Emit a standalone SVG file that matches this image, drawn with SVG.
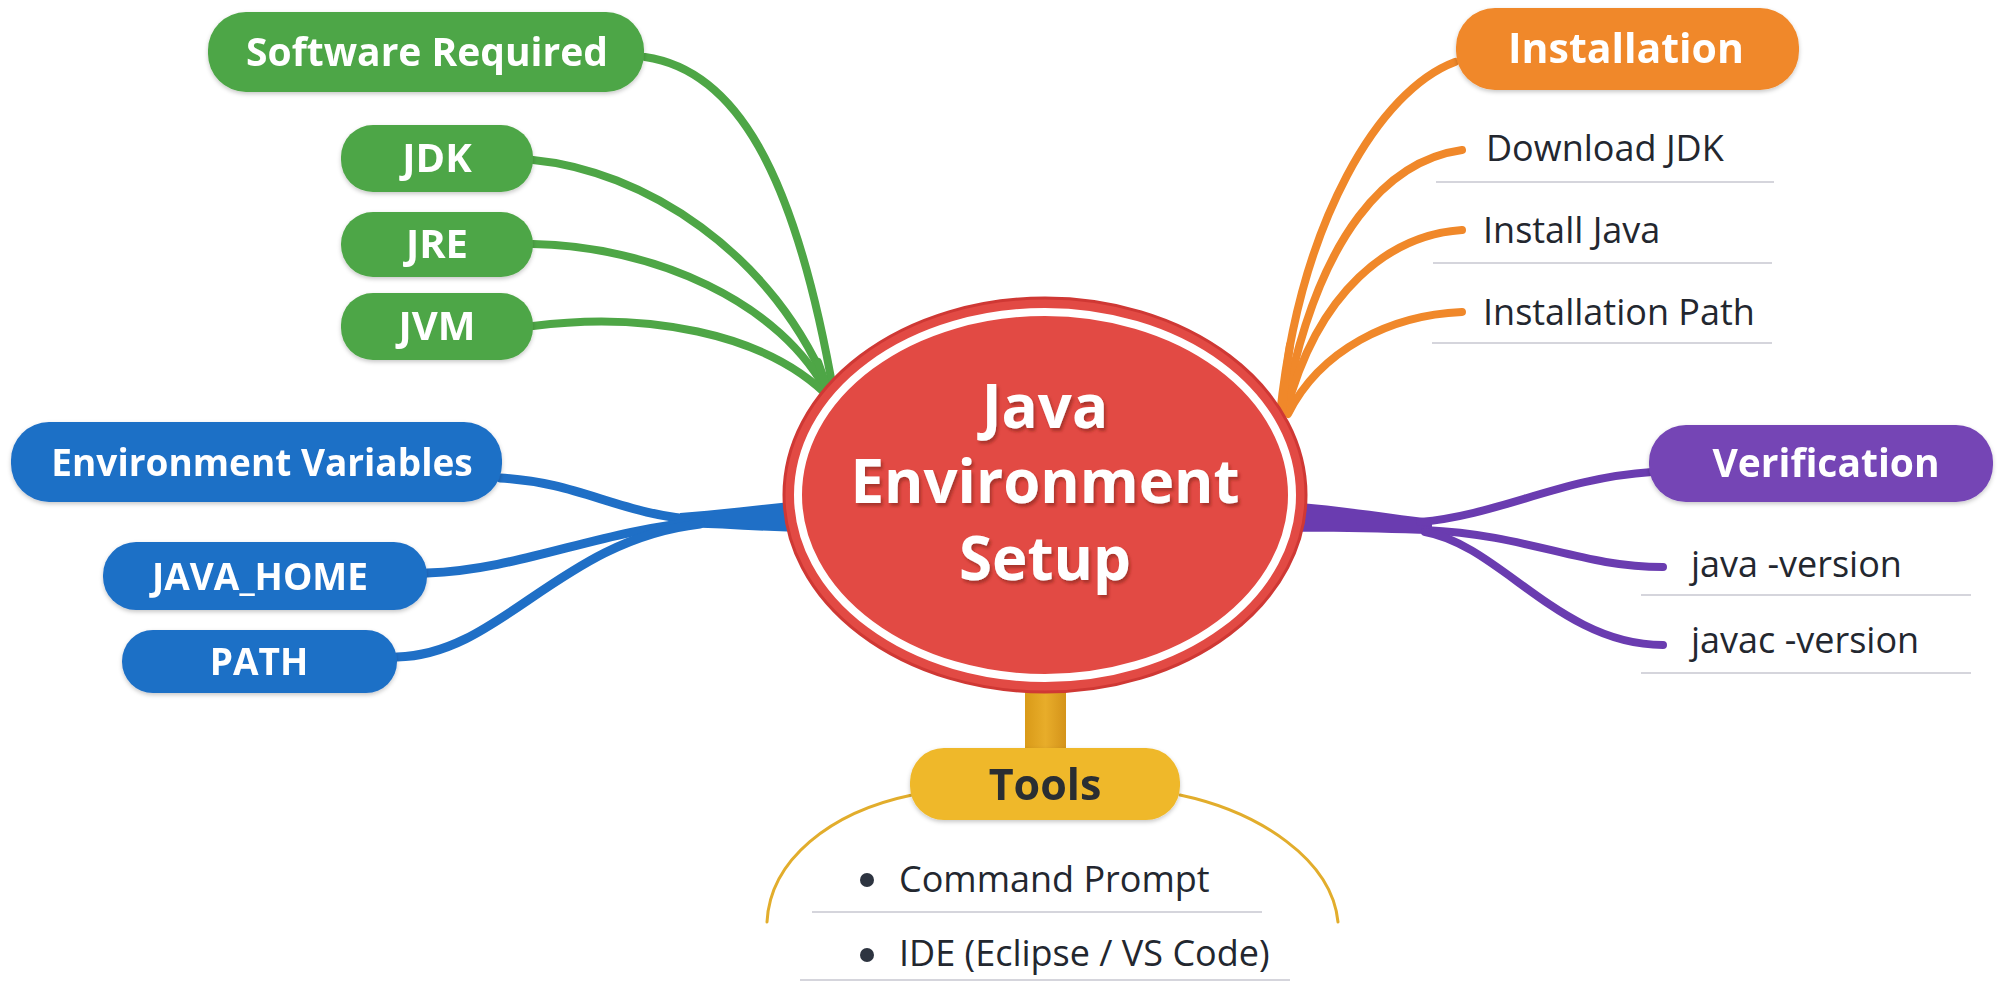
<svg xmlns="http://www.w3.org/2000/svg" width="2008" height="981" viewBox="0 0 2008 981">
  <defs>
    <filter id="sh" x="-10%" y="-20%" width="120%" height="150%">
      <feDropShadow dx="0" dy="2" stdDeviation="2" flood-color="#000" flood-opacity="0.22"/>
    </filter>
    <filter id="tsh" x="-10%" y="-20%" width="120%" height="150%">
      <feDropShadow dx="2" dy="3" stdDeviation="1.5" flood-color="#7a1a16" flood-opacity="0.55"/>
    </filter>
    <linearGradient id="stem" x1="0" y1="0" x2="1" y2="0">
      <stop offset="0" stop-color="#d99a18"/>
      <stop offset="0.5" stop-color="#e8ad2a"/>
      <stop offset="1" stop-color="#d4931a"/>
    </linearGradient>
  </defs>
  <style>
    .pill-t { font-family: "Open Sans", "Liberation Sans", sans-serif; font-weight: 700; fill: #ffffff; text-anchor: middle; }
    .item { font-family: "Open Sans", "Liberation Sans", sans-serif; font-weight: 500; fill: #23272f; font-size: 36px; }
    .uline { stroke: #d5d5dc; stroke-width: 2; }
    .g { stroke: #4ea646; fill: none; stroke-width: 8; stroke-linecap: round; }
    .b { stroke: #1f6fc6; fill: none; stroke-width: 9; stroke-linecap: round; }
    .o { stroke: #f0882a; fill: none; stroke-width: 8; stroke-linecap: round; }
    .p { stroke: #6a3cb0; fill: none; stroke-width: 8; stroke-linecap: round; }
    .y { stroke: #e2ad2c; fill: none; stroke-width: 3; stroke-linecap: round; }
  </style>
  <rect width="2008" height="981" fill="#ffffff"/>

  <g id="connectors">
    <!-- green -->
    <path class="g" d="M645,57 C735,70 795,170 834,395"/>
    <path class="g" d="M533,160 C640,170 775,250 832,398"/>
    <path class="g" d="M533,244 C650,246 782,300 830,398"/>
    <path class="g" d="M533,326 C640,312 765,330 832,400"/>
    <path class="g" d="M818,362 C824,378 828,392 832,408" stroke-width="16"/>
    <!-- blue -->
    <path fill="#1f6fc6" d="M680,513 C720,510 760,505 800,501 L800,532 C760,531 720,528 680,527 Z"/>
    <path class="b" d="M500,478 C580,482 620,515 700,520"/>
    <path class="b" d="M427,573 C520,570 600,530 700,522"/>
    <path class="b" d="M397,657 C500,655 560,540 700,524"/>
    <!-- orange -->
    <path class="o" d="M1455,62 C1380,90 1300,220 1280,415"/>
    <path class="o" d="M1462,150 C1390,160 1318,230 1284,412"/>
    <path class="o" d="M1462,230 C1390,235 1318,290 1286,412"/>
    <path class="o" d="M1462,312 C1390,315 1320,350 1288,414"/>
    <path class="o" d="M1290,345 C1286,370 1283,395 1281,422" stroke-width="16"/>
    <!-- purple -->
    <path fill="#6a3cb0" d="M1290,502 C1340,506 1390,514 1432,519 L1432,534 C1390,533 1340,531 1290,532 Z"/>
    <path class="p" d="M1420,522 C1500,515 1560,478 1652,472"/>
    <path class="p" d="M1425,530 C1530,535 1580,567 1663,567"/>
    <path class="p" d="M1425,532 C1500,545 1560,645 1663,645"/>
    <!-- tools -->
    <rect x="1025" y="680" width="41" height="72" fill="url(#stem)"/>
    <path class="y" d="M912,795 C830,812 770,860 767,922"/>
    <path class="y" d="M1180,795 C1260,812 1332,860 1338,922"/>
  </g>

  <g id="center">
    <ellipse cx="1045" cy="495" rx="261" ry="197" fill="#e24a44" stroke="#cf3834" stroke-width="3"/>
    <ellipse cx="1045" cy="495" rx="247" ry="183" fill="none" stroke="#ffffff" stroke-width="8"/>
    <g class="pill-t" font-size="60" filter="url(#tsh)">
      <text x="1045" y="428">Java</text>
      <text x="1045" y="503">Environment</text>
      <text x="1045" y="580">Setup</text>
    </g>
  </g>

  <g id="software-required" filter="url(#sh)">
    <rect x="208" y="12" width="436" height="80" rx="38" fill="#4ea646"/>
    <text class="pill-t" x="427" y="66" font-size="39">Software Required</text>
  </g>
  <g id="jdk" filter="url(#sh)">
    <rect x="341" y="125" width="192" height="67" rx="32" fill="#4ea646"/>
    <text class="pill-t" x="437" y="172" font-size="40">JDK</text>
  </g>
  <g id="jre" filter="url(#sh)">
    <rect x="341" y="212" width="192" height="65" rx="32" fill="#4ea646"/>
    <text class="pill-t" x="437" y="258" font-size="40">JRE</text>
  </g>
  <g id="jvm" filter="url(#sh)">
    <rect x="341" y="293" width="192" height="67" rx="32" fill="#4ea646"/>
    <text class="pill-t" x="437" y="340" font-size="40">JVM</text>
  </g>

  <g id="environment-variables" filter="url(#sh)">
    <rect x="11" y="422" width="491" height="80" rx="38" fill="#1f6fc6"/>
    <text class="pill-t" x="262" y="476" font-size="37">Environment Variables</text>
  </g>
  <g id="java-home" filter="url(#sh)">
    <rect x="103" y="542" width="324" height="68" rx="33" fill="#1f6fc6"/>
    <text class="pill-t" x="260" y="590" font-size="37">JAVA_HOME</text>
  </g>
  <g id="path" filter="url(#sh)">
    <rect x="122" y="630" width="275" height="63" rx="31" fill="#1f6fc6"/>
    <text class="pill-t" x="259" y="675" font-size="37">PATH</text>
  </g>

  <g id="installation" filter="url(#sh)">
    <rect x="1456" y="8" width="343" height="82" rx="39" fill="#f0882a"/>
    <text class="pill-t" x="1626" y="63" font-size="41">Installation</text>
  </g>
  <g id="download-jdk">
    <text class="item" x="1486" y="161">Download JDK</text>
    <line class="uline" x1="1436" y1="182" x2="1774" y2="182"/>
  </g>
  <g id="install-java">
    <text class="item" x="1483" y="243">Install Java</text>
    <line class="uline" x1="1433" y1="263" x2="1772" y2="263"/>
  </g>
  <g id="installation-path">
    <text class="item" x="1483" y="325">Installation Path</text>
    <line class="uline" x1="1432" y1="343" x2="1772" y2="343"/>
  </g>

  <g id="verification" filter="url(#sh)">
    <rect x="1649" y="425" width="344" height="77" rx="37" fill="#7445b5"/>
    <text class="pill-t" x="1826" y="477" font-size="39">Verification</text>
  </g>
  <g id="java-version">
    <text class="item" x="1691" y="577">java -version</text>
    <line class="uline" x1="1641" y1="595" x2="1971" y2="595"/>
  </g>
  <g id="javac-version">
    <text class="item" x="1691" y="653">javac -version</text>
    <line class="uline" x1="1641" y1="673" x2="1971" y2="673"/>
  </g>

  <g id="tools" filter="url(#sh)">
    <rect x="910" y="748" width="270" height="72" rx="34" fill="#efb82a"/>
    <text class="pill-t" x="1045" y="800" font-size="43" style="fill:#2a2d33">Tools</text>
  </g>
  <g id="command-prompt">
    <circle cx="867" cy="880" r="7" fill="#2d3440"/>
    <text class="item" x="899" y="892" font-size="35">Command Prompt</text>
    <line class="uline" x1="812" y1="912" x2="1262" y2="912"/>
  </g>
  <g id="ide">
    <circle cx="867" cy="955" r="7" fill="#2d3440"/>
    <text class="item" x="899" y="966" font-size="35">IDE (Eclipse / VS Code)</text>
    <line class="uline" x1="800" y1="980" x2="1290" y2="980"/>
  </g>
</svg>
